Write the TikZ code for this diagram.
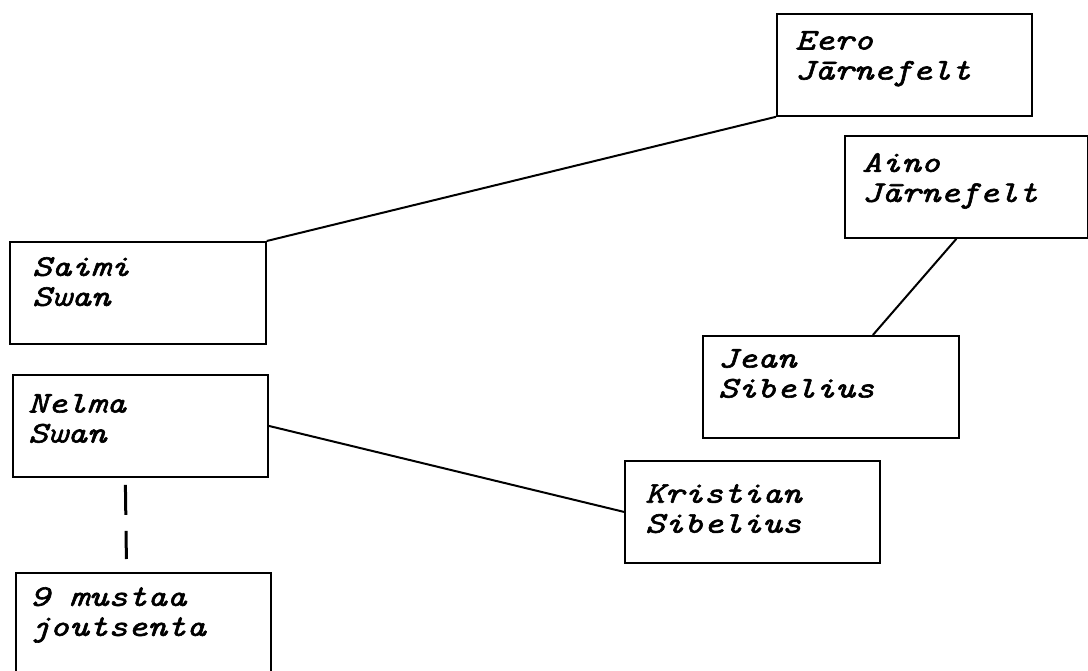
\documentclass[tikz,border=0pt]{standalone}
\usepackage{fontspec}
\newfontfamily\namefont{Latin Modern Mono}[FakeStretch=1.24, FakeBold=2]
\usetikzlibrary{positioning}

\begin{document}
\begin{tikzpicture}[x=1pt, y=-1pt,
  box/.style={draw, line width=1.8pt, minimum width=255pt, minimum height=102pt, anchor=north west, inner sep=0pt},
  person/.style={anchor=north west, inner sep=0pt, align=left, font=\namefont\itshape\fontsize{30}{30}\selectfont},
  link/.style={line width=2pt}]
\useasboundingbox (0,0) rectangle (1088,671);

% boxes
\node[box] (eero) at (776,13) {};
\node[box, minimum width=243pt] (aino) at (844,135) {};
\node[box, minimum width=256pt] (saimi) at (9,241) {};
\node[box, minimum width=256pt] (jean) at (702,335) {};
\node[box] (nelma) at (12,374) {};
\node[box] (kristian) at (624,460) {};
\node[box, minimum height=110pt] (mustaa) at (15,572) {};

% names
\node[person] (eeroname) at (795,31) {Eero\\Jārnefelt};
\node[person] (ainoname) at (862,153) {Aino\\Jārnefelt};
\node[person] (saiminame) at (32,257) {Saimi\\Swan};
\node[person] (jeanname) at (718,349) {Jean\\Sibelius};
\node[person] (nelmaname) at (28,394) {Nelma\\Swan};
\node[person] (kristianname) at (645,484) {Kristian\\Sibelius};
\node[person] (mustaaname) at (30,587) {9 mustaa\\joutsenta};

% connections
\draw[link] (saimi.north east) -- (eero.south west);
\draw[link] ([xshift=-10pt]aino.south) -- ([xshift=42pt]jean.north);
\draw[link] (nelma.east) -- (kristian.west);
\draw[line width=3pt, dash pattern=on 30pt off 16pt]
  ([xshift=-15pt, yshift=-7pt]nelma.south) -- ([xshift=-17pt, yshift=13pt]mustaa.north);
\end{tikzpicture}
\end{document}
